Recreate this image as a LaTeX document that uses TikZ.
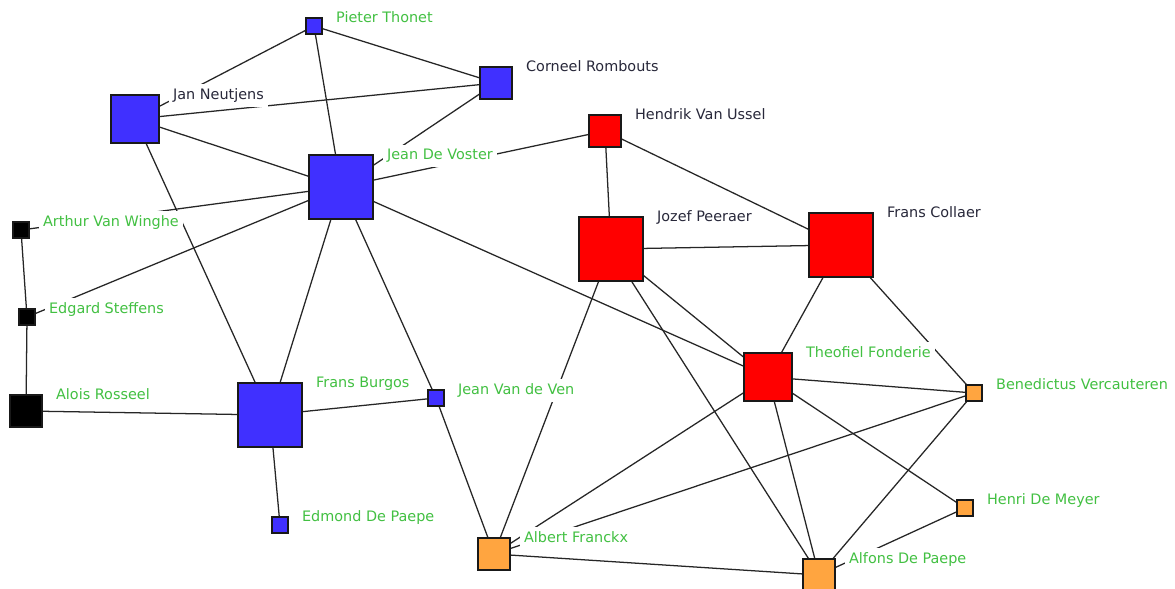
\documentclass[tikz,border=0pt]{standalone}
\usepackage{fontspec}
\setmainfont{DejaVu Sans}
\usetikzlibrary{calc,backgrounds}

\definecolor{netblue}{RGB}{64,48,255}
\definecolor{netred}{RGB}{255,0,0}
\definecolor{netorange}{RGB}{255,165,64}
\definecolor{namegreen}{RGB}{66,192,66}
\definecolor{namedark}{RGB}{40,40,58}

\tikzset{
	actor/.style={rectangle, draw=black!90, line width=0.9pt, inner sep=0pt},
	big/.style={actor, minimum size=48pt},
	mid/.style={actor, minimum size=36pt},
	small/.style={actor, minimum size=24pt},
	tiny/.style={actor, minimum size=12pt},
	personname/.style={fill=white, inner sep=3.2pt, anchor=base west, text=namegreen, font=\fontsize{10.8}{13}\selectfont},
	persondark/.style={personname, text=namedark},
	tie/.style={draw=black!85, line width=0.95pt}
}
\def\namelabel(#1)[#2]#3{\node[#2] (#1-name) at ($(#1.north east)+(9,5)$) {#3};}

\begin{document}
\begin{tikzpicture}[x=0.75pt, y=-0.75pt]
			%%%%% START %%%%%
			\useasboundingbox (0, 0) rectangle (1175, 589);
			
			% blue group
			\node[tiny, fill=netblue] (pieter) at (314, 26) {};
			\node[small, fill=netblue] (corneel) at (496, 83) {};
			\node[mid, fill=netblue] (jan) at (135, 119) {};
			\node[big, fill=netblue] (voster) at (341, 187) {};
			\node[big, fill=netblue] (burgos) at (270, 415) {};
			\node[tiny, fill=netblue] (vanven) at (436, 398) {};
			\node[tiny, fill=netblue] (edmond) at (280, 525) {};
			
			% black group
			\node[tiny, fill=black] (arthur) at (21, 230) {};
			\node[tiny, fill=black] (edgard) at (27, 317) {};
			\node[small, fill=black] (alois) at (26, 411) {};
			
			% red group
			\node[small, fill=netred] (hendrik) at (605, 131) {};
			\node[big, fill=netred] (jozef) at (611, 249) {};
			\node[big, fill=netred] (collaer) at (841, 245) {};
			\node[mid, fill=netred] (theofiel) at (768, 377) {};
			
			% orange group
			\node[tiny, fill=netorange] (benedictus) at (974, 393) {};
			\node[tiny, fill=netorange] (henri) at (965, 508) {};
			\node[small, fill=netorange] (albert) at (494, 554) {};
			\node[small, fill=netorange] (alfons) at (819, 575) {};
			
			% names
			\namelabel(pieter)[personname]{Pieter Thonet}
			\namelabel(corneel)[persondark]{Corneel Rombouts}
			\namelabel(jan)[persondark]{Jan Neutjens}
			\namelabel(voster)[personname]{Jean De Voster}
			\namelabel(burgos)[personname]{Frans Burgos}
			\namelabel(vanven)[personname]{Jean Van de Ven}
			\namelabel(edmond)[personname]{Edmond De Paepe}
			\namelabel(arthur)[personname]{Arthur Van Winghe}
			\namelabel(edgard)[personname]{Edgard Steffens}
			\namelabel(alois)[personname]{Alois Rosseel}
			\namelabel(hendrik)[persondark]{Hendrik Van Ussel}
			\namelabel(jozef)[persondark]{Jozef Peeraer}
			\namelabel(collaer)[persondark]{Frans Collaer}
			\namelabel(theofiel)[personname]{Theofiel Fonderie}
			\namelabel(benedictus)[personname]{Benedictus Vercauteren}
			\namelabel(henri)[personname]{Henri De Meyer}
			\namelabel(albert)[personname]{Albert Franckx}
			\namelabel(alfons)[personname]{Alfons De Paepe}
			
			% ties
			\begin{scope}[on background layer]
				\fill[white] (0, 0) rectangle (1175, 589);
				\draw[tie] (pieter) -- (jan);
				\draw[tie] (pieter) -- (voster);
				\draw[tie] (pieter) -- (corneel);
				\draw[tie] (jan) -- (corneel);
				\draw[tie] (jan) -- (voster);
				\draw[tie] (jan) -- (burgos);
				\draw[tie] (corneel) -- (voster);
				\draw[tie] (voster) -- (arthur);
				\draw[tie] (voster) -- (edgard);
				\draw[tie] (voster) -- (burgos);
				\draw[tie] (voster) -- (vanven);
				\draw[tie] (voster) -- (hendrik);
				\draw[tie] (voster) -- (theofiel);
				\draw[tie] (arthur) -- (edgard);
				\draw[tie] (edgard) -- (alois);
				\draw[tie] (alois) -- (burgos);
				\draw[tie] (burgos) -- (edmond);
				\draw[tie] (burgos) -- (vanven);
				\draw[tie] (vanven) -- (albert);
				
				\draw[tie] (hendrik) -- (jozef);
				\draw[tie] (hendrik) -- (collaer);
				\draw[tie] (jozef) -- (collaer);
				\draw[tie] (jozef) -- (albert);
				\draw[tie] (jozef) -- (theofiel);
				\draw[tie] (jozef) -- (alfons);
				\draw[tie] (collaer) -- (theofiel);
				\draw[tie] (collaer) -- (benedictus);
				\draw[tie] (theofiel) -- (benedictus);
				\draw[tie] (theofiel) -- (albert);
				\draw[tie] (theofiel) -- (alfons);
				\draw[tie] (theofiel) -- (henri);
				\draw[tie] (benedictus) -- (albert);
				\draw[tie] (benedictus) -- (alfons);
				\draw[tie] (henri) -- (alfons);
				\draw[tie] (albert) -- (alfons);
			\end{scope}
			
			%%%%% END %%%%%
\end{tikzpicture}
\end{document}
